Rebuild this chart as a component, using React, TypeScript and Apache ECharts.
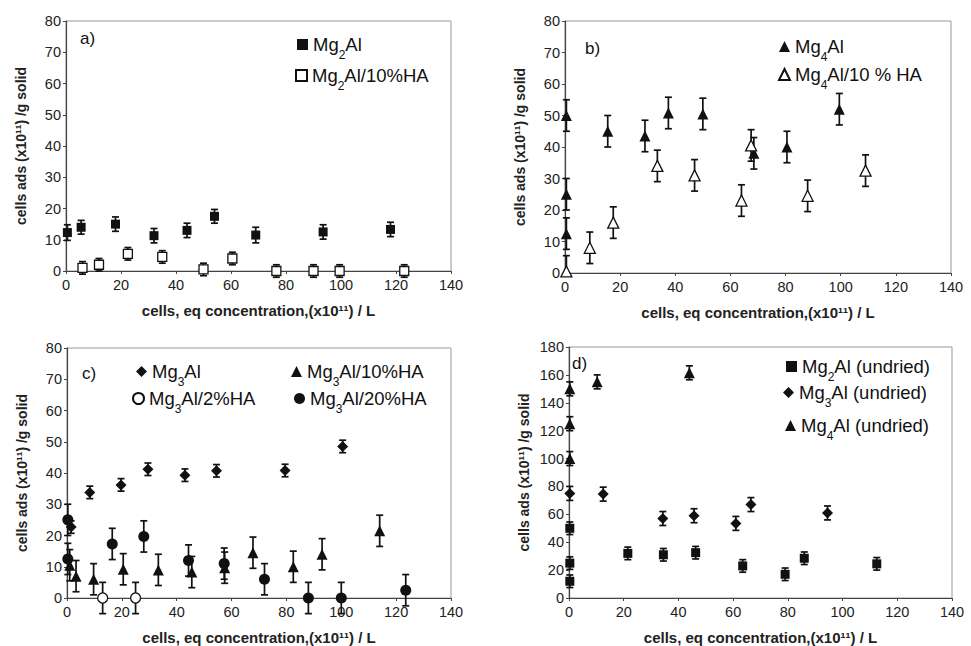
import React, { useEffect, useRef } from "react";
import * as echarts from "echarts";

// ---- Panel a ----
const aSolidX = [0.5, 5.5, 18, 32, 44, 54, 69, 93.5, 118];
const aSolidY = [12.3, 14, 15, 11.3, 13, 17.5, 11.5, 12.5, 13.3];
const aSolidErr = [2.5, 2.2, 2.3, 2.3, 2.3, 2.2, 2.5, 2.3, 2.3];
const aOpenX = [6, 12, 22.5, 35, 50, 60.5, 76.5, 90, 99.5, 123];
const aOpenY = [1, 2, 5.5, 4.5, 0.5, 4, 0, 0, 0, 0];
const aOpenErr = [2, 2, 2, 2, 2, 2, 2, 2, 2, 2];

// ---- Panel b ----
const bSolidX = [0.5, 0.5, 0.5, 15.5, 29, 37.5, 50, 68.5, 80.5, 99.5];
const bSolidY = [50, 25, 12.5, 45, 43.5, 50.8, 50.5, 38, 40, 52];
const bSolidErr = [5, 5, 5, 5, 5, 5, 5, 5, 5, 5];
const bOpenX = [0.5, 9, 17.5, 33.5, 47, 64, 67.5, 88, 109];
const bOpenY = [0.5, 8, 16, 34, 31, 23, 40.5, 24.5, 32.5];
const bOpenErr = [5, 5, 5, 5, 5, 5, 5, 5, 5];

// ---- Panel c ----
const cDiaX = [1.5, 8.3, 19.7, 29.5, 43, 54.5, 79.5, 100.5];
const cDiaY = [22.7, 33.8, 36.2, 41.2, 39.3, 40.7, 40.8, 48.5];
const cDiaErr = [2, 2, 2, 2, 2, 2, 2, 2];
const cTriX = [1, 3.3, 9.7, 20.5, 33.3, 45.5, 57.5, 67.8, 82.5, 93, 114];
const cTriY = [10.5, 7, 6, 9.2, 9, 8.3, 9.7, 14.5, 10, 14, 21.5];
const cTriErr = [5, 5, 5, 5, 5, 5, 5, 5, 5, 5, 5];
const cOpenX = [13, 25];
const cOpenY = [0, 0];
const cOpenErr = [5, 5];
const cCircX = [0.3, 0.3, 16.5, 28, 44.3, 57.3, 72, 88, 100, 123.5];
const cCircY = [25, 12.5, 17.3, 19.7, 12, 11, 6, 0, 0, 2.5];
const cCircErr = [5, 5, 5, 5, 5, 5, 5, 5, 5, 5];

// ---- Panel d ----
const dSqX = [0.3, 0.3, 0.3, 21.5, 34.5, 46.3, 63.5, 79, 86, 112.5];
const dSqY = [12, 25, 50, 32, 31, 32.5, 23, 17, 28.5, 24.5];
const dSqErr = [4.5, 4.5, 4.5, 4.5, 4.5, 4.5, 4.5, 4.5, 4.5, 4.5];
const dDiaX = [0.3, 12.5, 34.3, 45.7, 61, 66.5, 94.5];
const dDiaY = [75, 74.5, 57, 59, 53.5, 67, 61];
const dDiaErr = [5, 5, 5, 5, 5, 5, 5];
const dTriX = [0.3, 0.3, 0.3, 10.3, 44];
const dTriY = [100, 125, 150, 155, 161.5];
const dTriErr = [5, 5, 5, 5, 5];

const panelLabels = ["a)", "b)", "c)", "d)"];
const yTitle = "cells ads (x10\u00B9\u00B9) /g solid";
const xTitle = "cells, eq concentration,(x10\u00B9\u00B9) / L";

const FONT = "'Liberation Sans', Arial, sans-serif";

const grids = [
  { left: 66, top: 21, width: 385, height: 250, yMax: 80, yInt: 10 },
  { left: 565, top: 21, width: 386, height: 252, yMax: 80, yInt: 10 },
  { left: 67, top: 348, width: 384, height: 250, yMax: 80, yInt: 10 },
  { left: 569, top: 347, width: 383, height: 251, yMax: 180, yInt: 20 },
];

const labelPos = [
  [80, 30],
  [585, 40],
  [82, 365],
  [572, 355],
];

function App() {
  const ref = useRef<HTMLDivElement>(null);
  useEffect(() => {
    if (!ref.current) return;
    const chart = echarts.init(ref.current, null, { renderer: "svg" });

    const series: any[] = [];
    const addSeries = (
      gi: number,
      name: string,
      xs: number[],
      ys: number[],
      errs: number[],
      symbol: string,
      size: number,
      open: boolean,
      clipZero = false
    ) => {
      series.push({
        type: "custom",
        xAxisIndex: gi,
        yAxisIndex: gi,
        z: 1,
        silent: true,
        clip: false,
        data: xs.map((x, i) => [
          x,
          clipZero ? Math.max(0, ys[i] - errs[i]) : ys[i] - errs[i],
          ys[i] + errs[i],
        ]),
        encode: { x: 0, y: [1, 2] },
        renderItem: (params: any, api: any) => {
          const x = api.value(0);
          const p1 = api.coord([x, api.value(1)]);
          const p2 = api.coord([x, api.value(2)]);
          const w = 3.5;
          const st = { stroke: "#111", lineWidth: 1.7 };
          const children: any[] = [
            { type: "line", shape: { x1: p1[0], y1: p1[1], x2: p2[0], y2: p2[1] }, style: st },
            { type: "line", shape: { x1: p2[0] - w, y1: p2[1], x2: p2[0] + w, y2: p2[1] }, style: st },
            { type: "line", shape: { x1: p1[0] - w, y1: p1[1], x2: p1[0] + w, y2: p1[1] }, style: st },
          ];
          return { type: "group", children };
        },
      });
      series.push({
        type: "scatter",
        name,
        xAxisIndex: gi,
        yAxisIndex: gi,
        z: 3,
        symbol,
        symbolSize: size,
        emphasis: { disabled: true },
        itemStyle: open
          ? { color: "#fff", borderColor: "#111", borderWidth: 1.3, opacity: 1 }
          : { color: "#111", opacity: 1 },
        data: xs.map((x, i) => [x, ys[i]]),
      });
    };

    addSeries(0, "Mg2Al", aSolidX, aSolidY, aSolidErr, "rect", 9, false);
    addSeries(0, "Mg2Al/10%HA", aOpenX, aOpenY, aOpenErr, "rect", 9, true);
    addSeries(1, "Mg4Al", bSolidX, bSolidY, bSolidErr, "triangle", 11, false);
    addSeries(1, "Mg4Al/10 % HA", bOpenX, bOpenY, bOpenErr, "triangle", 11, true, true);
    addSeries(2, "Mg3Al", cDiaX, cDiaY, cDiaErr, "diamond", 11, false);
    addSeries(2, "Mg3Al/10%HA", cTriX, cTriY, cTriErr, "triangle", 11, false);
    addSeries(2, "Mg3Al/2%HA", cOpenX, cOpenY, cOpenErr, "circle", 10, true);
    addSeries(2, "Mg3Al/20%HA", cCircX, cCircY, cCircErr, "circle", 11, false);
    addSeries(3, "Mg2Al (undried)", dSqX, dSqY, dSqErr, "rect", 9, false);
    addSeries(3, "Mg3Al (undried)", dDiaX, dDiaY, dDiaErr, "diamond", 11, false);
    addSeries(3, "Mg4Al (undried)", dTriX, dTriY, dTriErr, "triangle", 11, false);

    const rich = {
      n: { fontSize: 18.5, fontFamily: FONT, color: "#111", lineHeight: 22 },
      s: { fontSize: 12, fontFamily: FONT, color: "#111", verticalAlign: "bottom", lineHeight: 14, padding: [0, 0, -5, 0] },
    };
    const fmt = (name: string) => name.replace(/^Mg(\d)(.*)$/, "{n|Mg}{s|$1}{n|$2}");

    const legendItems: [string, number, number][] = [
      ["Mg2Al", 297, 35],
      ["Mg2Al/10%HA", 295, 66],
      ["Mg4Al", 779, 37],
      ["Mg4Al/10 % HA", 778, 65],
      ["Mg3Al", 136, 362],
      ["Mg3Al/10%HA", 291, 362],
      ["Mg3Al/2%HA", 132, 389],
      ["Mg3Al/20%HA", 294, 389],
      ["Mg2Al (undried)", 786, 357],
      ["Mg3Al (undried)", 783, 383],
      ["Mg4Al (undried)", 785, 416],
    ];

    const legend = legendItems.map(([name, left, top]) => ({
      data: [name],
      left,
      top,
      padding: 0,
      itemWidth: 11,
      itemHeight: 11,
      itemGap: 0,
      selectedMode: false,
      formatter: fmt,
      textStyle: { rich, fontSize: 18.5, fontFamily: FONT, color: "#111" },
    }));

    const axisLine = { show: true, lineStyle: { color: "#444", width: 1.2 } };
    const axisLabel = { fontSize: 14.5, fontFamily: FONT, color: "#222" };
    const nameStyle = { fontSize: 15, fontWeight: "bold", fontFamily: FONT, color: "#222" };

    const option: any = {
      animation: false,
      backgroundColor: "#fff",
      grid: grids.map((g) => ({
        left: g.left,
        top: g.top,
        width: g.width,
        height: g.height,
        show: true,
        borderColor: "#999",
        borderWidth: 1,
        backgroundColor: "transparent",
      })),
      xAxis: grids.map((g, i) => ({
        type: "value",
        gridIndex: i,
        min: 0,
        max: 140,
        interval: 20,
        splitLine: { show: false },
        axisLine,
        axisTick: { show: true, length: 3, lineStyle: { color: "#444" } },
        axisLabel: { ...axisLabel, margin: 6 },
        name: xTitle,
        nameLocation: "middle",
        nameGap: 32,
        nameTextStyle: nameStyle,
      })),
      yAxis: grids.map((g, i) => ({
        type: "value",
        gridIndex: i,
        min: 0,
        max: g.yMax,
        interval: g.yInt,
        splitLine: { show: false },
        axisLine,
        axisTick: { show: true, length: 3, lineStyle: { color: "#444" } },
        axisLabel: { ...axisLabel, margin: 5 },
        name: yTitle,
        nameLocation: "middle",
        nameRotate: 90,
        nameGap: 38,
        nameTextStyle: { ...nameStyle, fontSize: 14 },
      })),
      legend,
      graphic: panelLabels.map((t, i) => ({
        type: "text",
        left: labelPos[i][0],
        top: labelPos[i][1],
        style: { text: t, fontSize: 17, fontFamily: FONT, fill: "#111" },
      })),
      series,
    };
    chart.setOption(option);
    return () => chart.dispose();
  }, []);

  return (
    <div
      ref={ref}
      style={{ position: "fixed", left: 0, top: 0, width: 971, height: 646, background: "#fff" }}
    />
  );
}

export default App;
